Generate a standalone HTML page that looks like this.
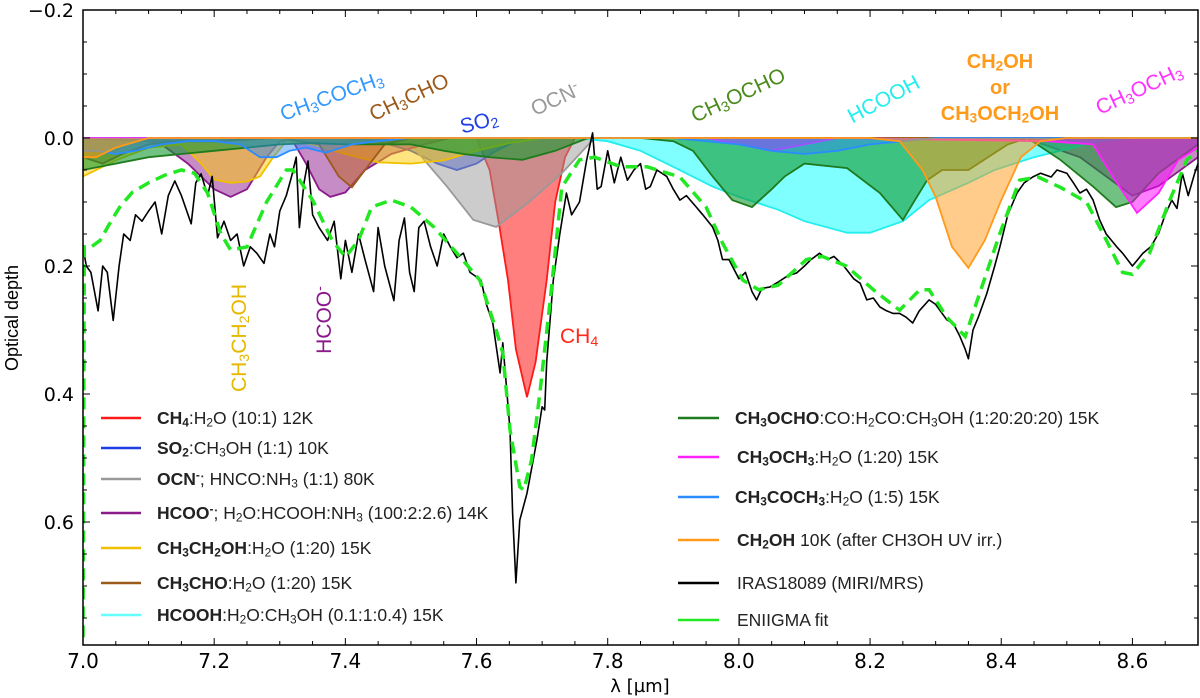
<!DOCTYPE html>
<html><head><meta charset="utf-8"><style>
html,body{margin:0;padding:0;background:#fff;}
#wrap{position:relative;width:1200px;height:698px;overflow:hidden;font-family:"Liberation Sans",sans-serif;}
svg{position:absolute;left:0;top:0;}
.lg{position:absolute;font-size:17.5px;color:#222;white-space:nowrap;line-height:18px;transform:translateY(-50%);}
.lg b{font-weight:bold;}
sub{font-size:0.68em;vertical-align:-0.2em;line-height:0;}
sup{font-size:0.68em;vertical-align:0.5em;line-height:0;}
.an{position:absolute;white-space:nowrap;font-size:21px;line-height:22px;transform-origin:center center;}
</style></head><body>
<div id="wrap">
<svg id="svg" width="1200" height="698"></svg>

<div class="lg" style="left:157px;top:418px"><b>CH<sub>4</sub></b>:H<sub>2</sub>O (10:1) 12K</div>
<div class="lg" style="left:157px;top:448px"><b>SO<sub>2</sub></b>:CH<sub>3</sub>OH (1:1) 10K</div>
<div class="lg" style="left:157px;top:479px"><b>OCN<sup>-</sup></b>; HNCO:NH<sub>3</sub> (1:1) 80K</div>
<div class="lg" style="left:157px;top:513px"><b>HCOO<sup>-</sup></b>; H<sub>2</sub>O:HCOOH:NH<sub>3</sub> (100:2:2.6) 14K</div>
<div class="lg" style="left:157px;top:548px"><b>CH<sub>3</sub>CH<sub>2</sub>OH</b>:H<sub>2</sub>O (1:20) 15K</div>
<div class="lg" style="left:157px;top:583px"><b>CH<sub>3</sub>CHO</b>:H<sub>2</sub>O (1:20) 15K</div>
<div class="lg" style="left:157px;top:615px"><b>HCOOH</b>:H<sub>2</sub>O:CH<sub>3</sub>OH (0.1:1:0.4) 15K</div>

<div class="lg" style="left:735px;top:418px"><b>CH<sub>3</sub>OCHO</b>:CO:H<sub>2</sub>CO:CH<sub>3</sub>OH (1:20:20:20) 15K</div>
<div class="lg" style="left:737px;top:457px"><b>CH<sub>3</sub>OCH<sub>3</sub></b>:H<sub>2</sub>O (1:20) 15K</div>
<div class="lg" style="left:735px;top:497px"><b>CH<sub>3</sub>COCH<sub>3</sub></b>:H<sub>2</sub>O (1:5) 15K</div>
<div class="lg" style="left:737px;top:540px"><b>CH<sub>2</sub>OH</b> 10K (after CH3OH UV irr.)</div>
<div class="lg" style="left:737px;top:583px">IRAS18089 (MIRI/MRS)</div>
<div class="lg" style="left:737px;top:620px">ENIIGMA fit</div>

<div class="an" style="left:278px;top:86px;color:#3399ff;transform:rotate(-20deg)">CH<sub>3</sub>COCH<sub>3</sub></div>
<div class="an" style="left:367px;top:87px;color:#9c5a1a;transform:rotate(-25deg)">CH<sub>3</sub>CHO</div>
<div class="an" style="left:460px;top:112px;color:#1f3fe6;transform:rotate(-15deg)">SO<sub>2</sub></div>
<div class="an" style="left:530px;top:89px;color:#999;transform:rotate(-25deg)">OCN<sup>-</sup></div>
<div class="an" style="left:688px;top:85px;color:#4a8a1a;transform:rotate(-25deg)">CH<sub>3</sub>OCHO</div>
<div class="an" style="left:845px;top:89px;color:#22eeee;transform:rotate(-28deg)">HCOOH</div>
<div class="an" style="left:900px;top:49px;width:200px;text-align:center;color:#ff9a1a;font-weight:bold;font-size:20px;line-height:26px">CH<sub>2</sub>OH<br>or<br>CH<sub>3</sub>OCH<sub>2</sub>OH</div>
<div class="an" style="left:1093px;top:79px;color:#ff33ff;transform:rotate(-25deg)">CH<sub>3</sub>OCH<sub>3</sub></div>
<div class="an" style="left:186px;top:327px;color:#e6b800;transform:rotate(-90deg)">CH<sub>3</sub>CH<sub>2</sub>OH</div>
<div class="an" style="left:291px;top:309px;color:#8b1a8b;transform:rotate(-90deg)">HCOO<sup>-</sup></div>
<div class="an" style="left:560px;top:326px;color:#ff2a1a">CH<sub>4</sub></div>
</div>
<script>
const obsLam=[7.000,7.005,7.012,7.023,7.030,7.037,7.046,7.055,7.062,7.072,7.080,7.090,7.100,7.110,7.120,7.130,7.140,7.150,7.165,7.172,7.180,7.190,7.197,7.205,7.215,7.225,7.235,7.245,7.255,7.265,7.276,7.285,7.292,7.300,7.310,7.318,7.325,7.330,7.337,7.343,7.350,7.360,7.373,7.383,7.393,7.400,7.410,7.420,7.430,7.443,7.450,7.460,7.474,7.482,7.490,7.498,7.505,7.512,7.520,7.530,7.540,7.550,7.560,7.570,7.580,7.590,7.600,7.607,7.615,7.625,7.636,7.640,7.651,7.655,7.660,7.666,7.677,7.692,7.700,7.704,7.707,7.717,7.727,7.737,7.745,7.757,7.768,7.777,7.784,7.790,7.800,7.810,7.820,7.830,7.840,7.850,7.858,7.865,7.875,7.890,7.900,7.910,7.920,7.935,7.945,7.960,7.968,7.975,7.985,8.000,8.010,8.020,8.027,8.035,8.047,8.060,8.075,8.088,8.100,8.110,8.123,8.135,8.145,8.160,8.175,8.185,8.195,8.205,8.215,8.225,8.235,8.245,8.255,8.265,8.275,8.290,8.300,8.317,8.327,8.337,8.345,8.350,8.357,8.365,8.378,8.390,8.398,8.410,8.424,8.435,8.448,8.460,8.476,8.485,8.500,8.510,8.520,8.530,8.540,8.550,8.560,8.576,8.585,8.600,8.608,8.616,8.628,8.640,8.650,8.660,8.668,8.676,8.685,8.695,8.700];
const obsTau=[0.17,0.20,0.21,0.27,0.20,0.21,0.285,0.20,0.15,0.16,0.12,0.13,0.114,0.10,0.15,0.09,0.067,0.09,0.134,0.07,0.056,0.09,0.06,0.156,0.13,0.16,0.15,0.20,0.17,0.18,0.196,0.15,0.17,0.114,0.09,0.06,0.03,0.14,0.07,0.036,0.12,0.14,0.16,0.13,0.22,0.16,0.21,0.15,0.19,0.24,0.14,0.20,0.254,0.16,0.125,0.21,0.24,0.14,0.13,0.17,0.20,0.15,0.17,0.187,0.18,0.21,0.217,0.222,0.26,0.29,0.367,0.32,0.456,0.586,0.695,0.597,0.555,0.472,0.42,0.425,0.35,0.222,0.15,0.086,0.12,0.10,0.034,-0.008,0.08,0.076,0.02,0.07,0.03,0.066,0.05,0.04,0.08,0.076,0.05,0.06,0.08,0.097,0.09,0.108,0.12,0.139,0.16,0.19,0.19,0.22,0.21,0.24,0.253,0.235,0.233,0.225,0.215,0.211,0.20,0.19,0.18,0.19,0.185,0.20,0.22,0.227,0.253,0.25,0.264,0.27,0.274,0.274,0.28,0.289,0.27,0.253,0.26,0.284,0.29,0.31,0.33,0.345,0.30,0.28,0.243,0.20,0.17,0.12,0.086,0.07,0.061,0.055,0.061,0.05,0.055,0.07,0.086,0.08,0.097,0.128,0.15,0.17,0.18,0.20,0.19,0.18,0.17,0.149,0.12,0.097,0.11,0.055,0.09,0.055,0.04];
const fitLam=[7.000,7.002,7.010,7.026,7.040,7.056,7.075,7.100,7.125,7.150,7.170,7.190,7.210,7.225,7.250,7.280,7.310,7.320,7.350,7.380,7.400,7.420,7.440,7.470,7.500,7.535,7.570,7.605,7.630,7.640,7.651,7.666,7.672,7.684,7.697,7.713,7.730,7.757,7.780,7.820,7.860,7.910,7.950,7.975,8.006,8.030,8.060,8.103,8.127,8.164,8.205,8.245,8.276,8.290,8.317,8.345,8.367,8.398,8.428,8.456,8.490,8.530,8.555,8.585,8.600,8.626,8.657,8.683,8.700];
const fitTau=[0.81,0.17,0.172,0.16,0.135,0.108,0.085,0.07,0.058,0.05,0.055,0.086,0.149,0.175,0.17,0.10,0.05,0.05,0.097,0.16,0.186,0.16,0.108,0.097,0.108,0.139,0.18,0.222,0.30,0.336,0.456,0.545,0.55,0.503,0.394,0.248,0.077,0.034,0.03,0.045,0.045,0.061,0.108,0.164,0.222,0.237,0.23,0.19,0.185,0.20,0.237,0.269,0.237,0.237,0.28,0.31,0.243,0.149,0.066,0.061,0.077,0.10,0.149,0.21,0.213,0.18,0.097,0.034,0.02];

const ch4Lam=[7.60,7.62,7.635,7.648,7.66,7.677,7.69,7.707,7.72,7.735,7.75];
const ch4Tau=[0,0.05,0.139,0.222,0.33,0.405,0.35,0.222,0.10,0.03,0];
const so2Lam=[7.0,7.1,7.2,7.3,7.4,7.45,7.5,7.54,7.57,7.6,7.63,7.66,7.7];
const so2Tau=[0,0.005,0.005,0,0,0.005,0.02,0.04,0.05,0.04,0.02,0.005,0];
const ocnLam=[7.45,7.5,7.555,7.595,7.63,7.68,7.73,7.78];
const ocnTau=[0,0.01,0.076,0.128,0.139,0.10,0.055,0];
const hcooLam=[7.0,7.08,7.12,7.16,7.2,7.225,7.25,7.28,7.3,7.32,7.34,7.36,7.377,7.4,7.43,7.47,7.52,7.56,8.3,8.45,8.52,8.56,8.6,8.64,8.68,8.7];
const hcooTau=[0,0,0.01,0.04,0.08,0.092,0.08,0.03,0.005,0.005,0.04,0.08,0.092,0.085,0.05,0.025,0.01,0,0,0.005,0.03,0.06,0.09,0.075,0.045,0.03];
const etohLam=[7.0,7.05,7.1,7.15,7.18,7.2,7.225,7.25,7.27,7.29,7.31,7.35,7.4,7.45,7.5,7.55,7.6,7.65,7.7];
const etohTau=[0.06,0.035,0.015,0.01,0.04,0.065,0.07,0.068,0.06,0.03,0.005,0.01,0.025,0.038,0.04,0.035,0.02,0.008,0];
const ch3choLam=[7.0,7.03,7.06,7.1,7.15,7.2,7.3,7.36,7.39,7.41,7.43,7.46,7.5];
const ch3choTau=[0.03,0.04,0.025,0.01,0.005,0.005,0,0.01,0.06,0.077,0.05,0.01,0];
const hcoohLam=[7.75,7.8,7.85,7.9,7.96,8.0,8.06,8.1,8.165,8.2,8.25,8.29,8.35,8.39,8.45,8.49,8.55,8.6];
const hcoohTau=[0,0.005,0.02,0.045,0.076,0.092,0.112,0.13,0.148,0.148,0.13,0.097,0.07,0.05,0.03,0.02,0.005,0];
const mfLam=[7.0,7.05,7.1,7.15,7.2,7.25,7.3,7.35,7.4,7.45,7.5,7.55,7.58,7.62,7.67,7.72,7.77,7.85,7.9,7.93,7.96,7.99,8.02,8.05,8.07,8.1,8.165,8.215,8.25,8.287,8.31,8.35,8.41,8.44,8.49,8.54,8.575,8.6,8.64,8.7];
const mfTau=[0.05,0.04,0.03,0.025,0.02,0.015,0.01,0.008,0.01,0.01,0.01,0.02,0.025,0.03,0.034,0.02,0,0,0.005,0.02,0.06,0.097,0.108,0.08,0.06,0.04,0.047,0.086,0.128,0.066,0.05,0.05,0.01,0,0.034,0.076,0.108,0.10,0.055,0.01];
const dmeLam=[7.95,8.0,8.05,8.1,8.15,8.47,8.54,8.57,8.607,8.64,8.67,8.7];
const dmeTau=[0,0.01,0.02,0.01,0,0.005,0.01,0.06,0.117,0.086,0.034,0.015];
const aceLam=[7.0,7.02,7.05,7.08,7.12,7.16,7.2,7.24,7.27,7.295,7.315,7.34,7.37,7.41,7.45,7.5,7.6,7.9,8.0,8.05,8.1,8.15,8.2,8.3];
const aceTau=[0.02,0.02,0.025,0.02,0.01,0.005,0.005,0.01,0.03,0.03,0.02,0.015,0.023,0.01,0.005,0,0,0,0.01,0.02,0.025,0.02,0.01,0];
const ch2ohLam=[7.0,7.02,7.05,7.1,8.2,8.245,8.28,8.30,8.325,8.35,8.375,8.40,8.43,8.46,8.5];
const ch2ohTau=[0.03,0.03,0.015,0,0,0.005,0.05,0.092,0.17,0.203,0.16,0.097,0.03,0.005,0];

const xTicks=[7.0,7.2,7.4,7.6,7.8,8.0,8.2,8.4,8.6];
const xTickLabels=["7.0","7.2","7.4","7.6","7.8","8.0","8.2","8.4","8.6"];
const yTicks=[-0.2,0.0,0.2,0.4,0.6];
const yTickLabels=["\u22120.2","0.0","0.2","0.4","0.6"];

const X0=83,X1=1198,Y0=10,Y1=645;
const xMin=7.0,xMax=8.7,yMin=-0.2,yMax=(Y1-138)/640;
function xs(l){return X0+(l-xMin)/(xMax-xMin)*(X1-X0);}
function ys(v){return 138+v*640;}
const NS="http://www.w3.org/2000/svg";
const svg=document.getElementById('svg');
function mk(tag,attrs,parent){const e=document.createElementNS(NS,tag);for(const k in attrs)e.setAttribute(k,attrs[k]);(parent||svg).appendChild(e);return e;}

const defs=mk('defs',{});
const cp=mk('clipPath',{id:'clip'},defs);
mk('rect',{x:X0,y:Y0,width:X1-X0,height:Y1-Y0},cp);
const g=mk('g',{'clip-path':'url(#clip)'});



const comps=[
 ['ch4',ch4Lam,ch4Tau,'#ff1a1a','#ff0000',0.5],
 ['so2',so2Lam,so2Tau,'#1f3fe6','#1f3fe6',0.5],
 ['ocn',ocnLam,ocnTau,'#999999','#999999',0.5],
 ['hcoo',hcooLam,hcooTau,'#8b1a8b','#8b1a8b',0.5],
 ['ch3ch2oh',etohLam,etohTau,'#f0c000','#ffcc00',0.5],
 ['ch3cho',ch3choLam,ch3choTau,'#9c5a1a','#c06020',0.5],
 ['hcooh',hcoohLam,hcoohTau,'#22eeee','#00ffff',0.5],
 ['ch3ocho',mfLam,mfTau,'#1e7b1e','#139a2e',0.6],
 ['ch3och3',dmeLam,dmeTau,'#ff22ff','#ff00ff',0.5],
 ['ch3coch3',aceLam,aceTau,'#2a8cff','#2a8cff',0.45],
 ['ch2oh',ch2ohLam,ch2ohTau,'#ff9a1a','#ff9a1a',0.5]
];
comps.forEach(c=>{
  const lam=c[1],tau=c[2];
  let pts=[[xs(xMin),ys(0)]];
  if(lam[0]>xMin) pts.push([xs(lam[0]),ys(0)]);
  for(let i=0;i<lam.length;i++) pts.push([xs(lam[i]),ys(tau[i])]);
  if(lam[lam.length-1]<xMax) pts.push([xs(xMax),ys(0)]);
  let d=pts.map((p,i)=>(i?'L':'M')+p[0].toFixed(1)+','+p[1].toFixed(1)).join(' ');
  const f=mk('path',{d:d+' L'+xs(xMax)+','+ys(0)+' Z',fill:c[4],'fill-opacity':c[5],stroke:'none'},g);
  
  
  const l=mk('path',{d:d,fill:'none',stroke:c[3],'stroke-width':1.8},g);
  
  
});
function line(lam,tau){return lam.map((l,i)=>(i?'L':'M')+xs(l).toFixed(1)+','+ys(tau[i]).toFixed(1)).join(' ');}
const obs=mk('path',{d:line(obsLam,obsTau),fill:'none',stroke:'#000','stroke-width':1.6,'stroke-linejoin':'round'},g);


const fit=mk('path',{d:line(fitLam,fitTau),fill:'none',stroke:'#22e822','stroke-width':3.5,'stroke-dasharray':'12,7'},g);



const fr=mk('rect',{x:X0,y:Y0,width:X1-X0,height:Y1-Y0,fill:'none',stroke:'#000','stroke-width':1.5});


for(let t=7.0;t<=8.7001;t+=0.05){
  const x=xs(t);const maj=Math.abs(Math.round(t*5)-t*5)<1e-6;const L=maj?7:4;
  mk('line',{x1:x,x2:x,y1:Y1,y2:Y1-L,stroke:'#000','stroke-width':1});
  mk('line',{x1:x,x2:x,y1:Y0,y2:Y0+L,stroke:'#000','stroke-width':1});
}
for(let v=-0.2;v<=yMax;v+=0.05){
  const y=ys(v);const maj=Math.abs(Math.round(v*5)-v*5)<1e-6;const L=maj?7:4;
  mk('line',{x1:X0,x2:X0+L,y1:y,y2:y,stroke:'#000','stroke-width':1});
  mk('line',{x1:X1,x2:X1-L,y1:y,y2:y,stroke:'#000','stroke-width':1});
}
xTicks.forEach((t,i)=>{
  const tx=mk('text',{x:xs(t),y:668,'text-anchor':'middle','font-family':'DejaVu Sans, sans-serif','font-size':20,fill:'#000'});
  tx.textContent=xTickLabels[i];
  
  
});
yTicks.forEach((t,i)=>{
  const tx=mk('text',{x:74,y:ys(t)+7,'text-anchor':'end','font-family':'DejaVu Sans, sans-serif','font-size':19,fill:'#000'});
  tx.textContent=yTickLabels[i];
  
  
});
const xt=mk('text',{x:640,y:692,'text-anchor':'middle','font-family':'DejaVu Sans, sans-serif','font-size':18,fill:'#000'});
xt.textContent='\u03bb [\u00b5m]';


const yt=mk('text',{x:0,y:0,'text-anchor':'middle','font-family':'Liberation Sans, sans-serif','font-size':18,fill:'#000',transform:'translate(18,318) rotate(-90)'});
yt.textContent='Optical depth';


const legL=[['#ff1a1a',418],['#1f3fe6',448],['#999999',479],['#8b1a8b',513],['#f0c000',548],['#9c5a1a',583],['#66ffff',615]];
legL.forEach(a=>{const l=mk('line',{x1:101,x2:141,y1:a[1],y2:a[1],stroke:a[0],'stroke-width':2.5});

});
const legR=[['#1e7b1e',418],['#ff22ff',457],['#2a8cff',497],['#ff9a1a',540],['#000000',583],['#22e822',620]];
legR.forEach(a=>{const l=mk('line',{x1:678,x2:719,y1:a[1],y2:a[1],stroke:a[0],'stroke-width':2.5});

});
</script>
</body></html>
